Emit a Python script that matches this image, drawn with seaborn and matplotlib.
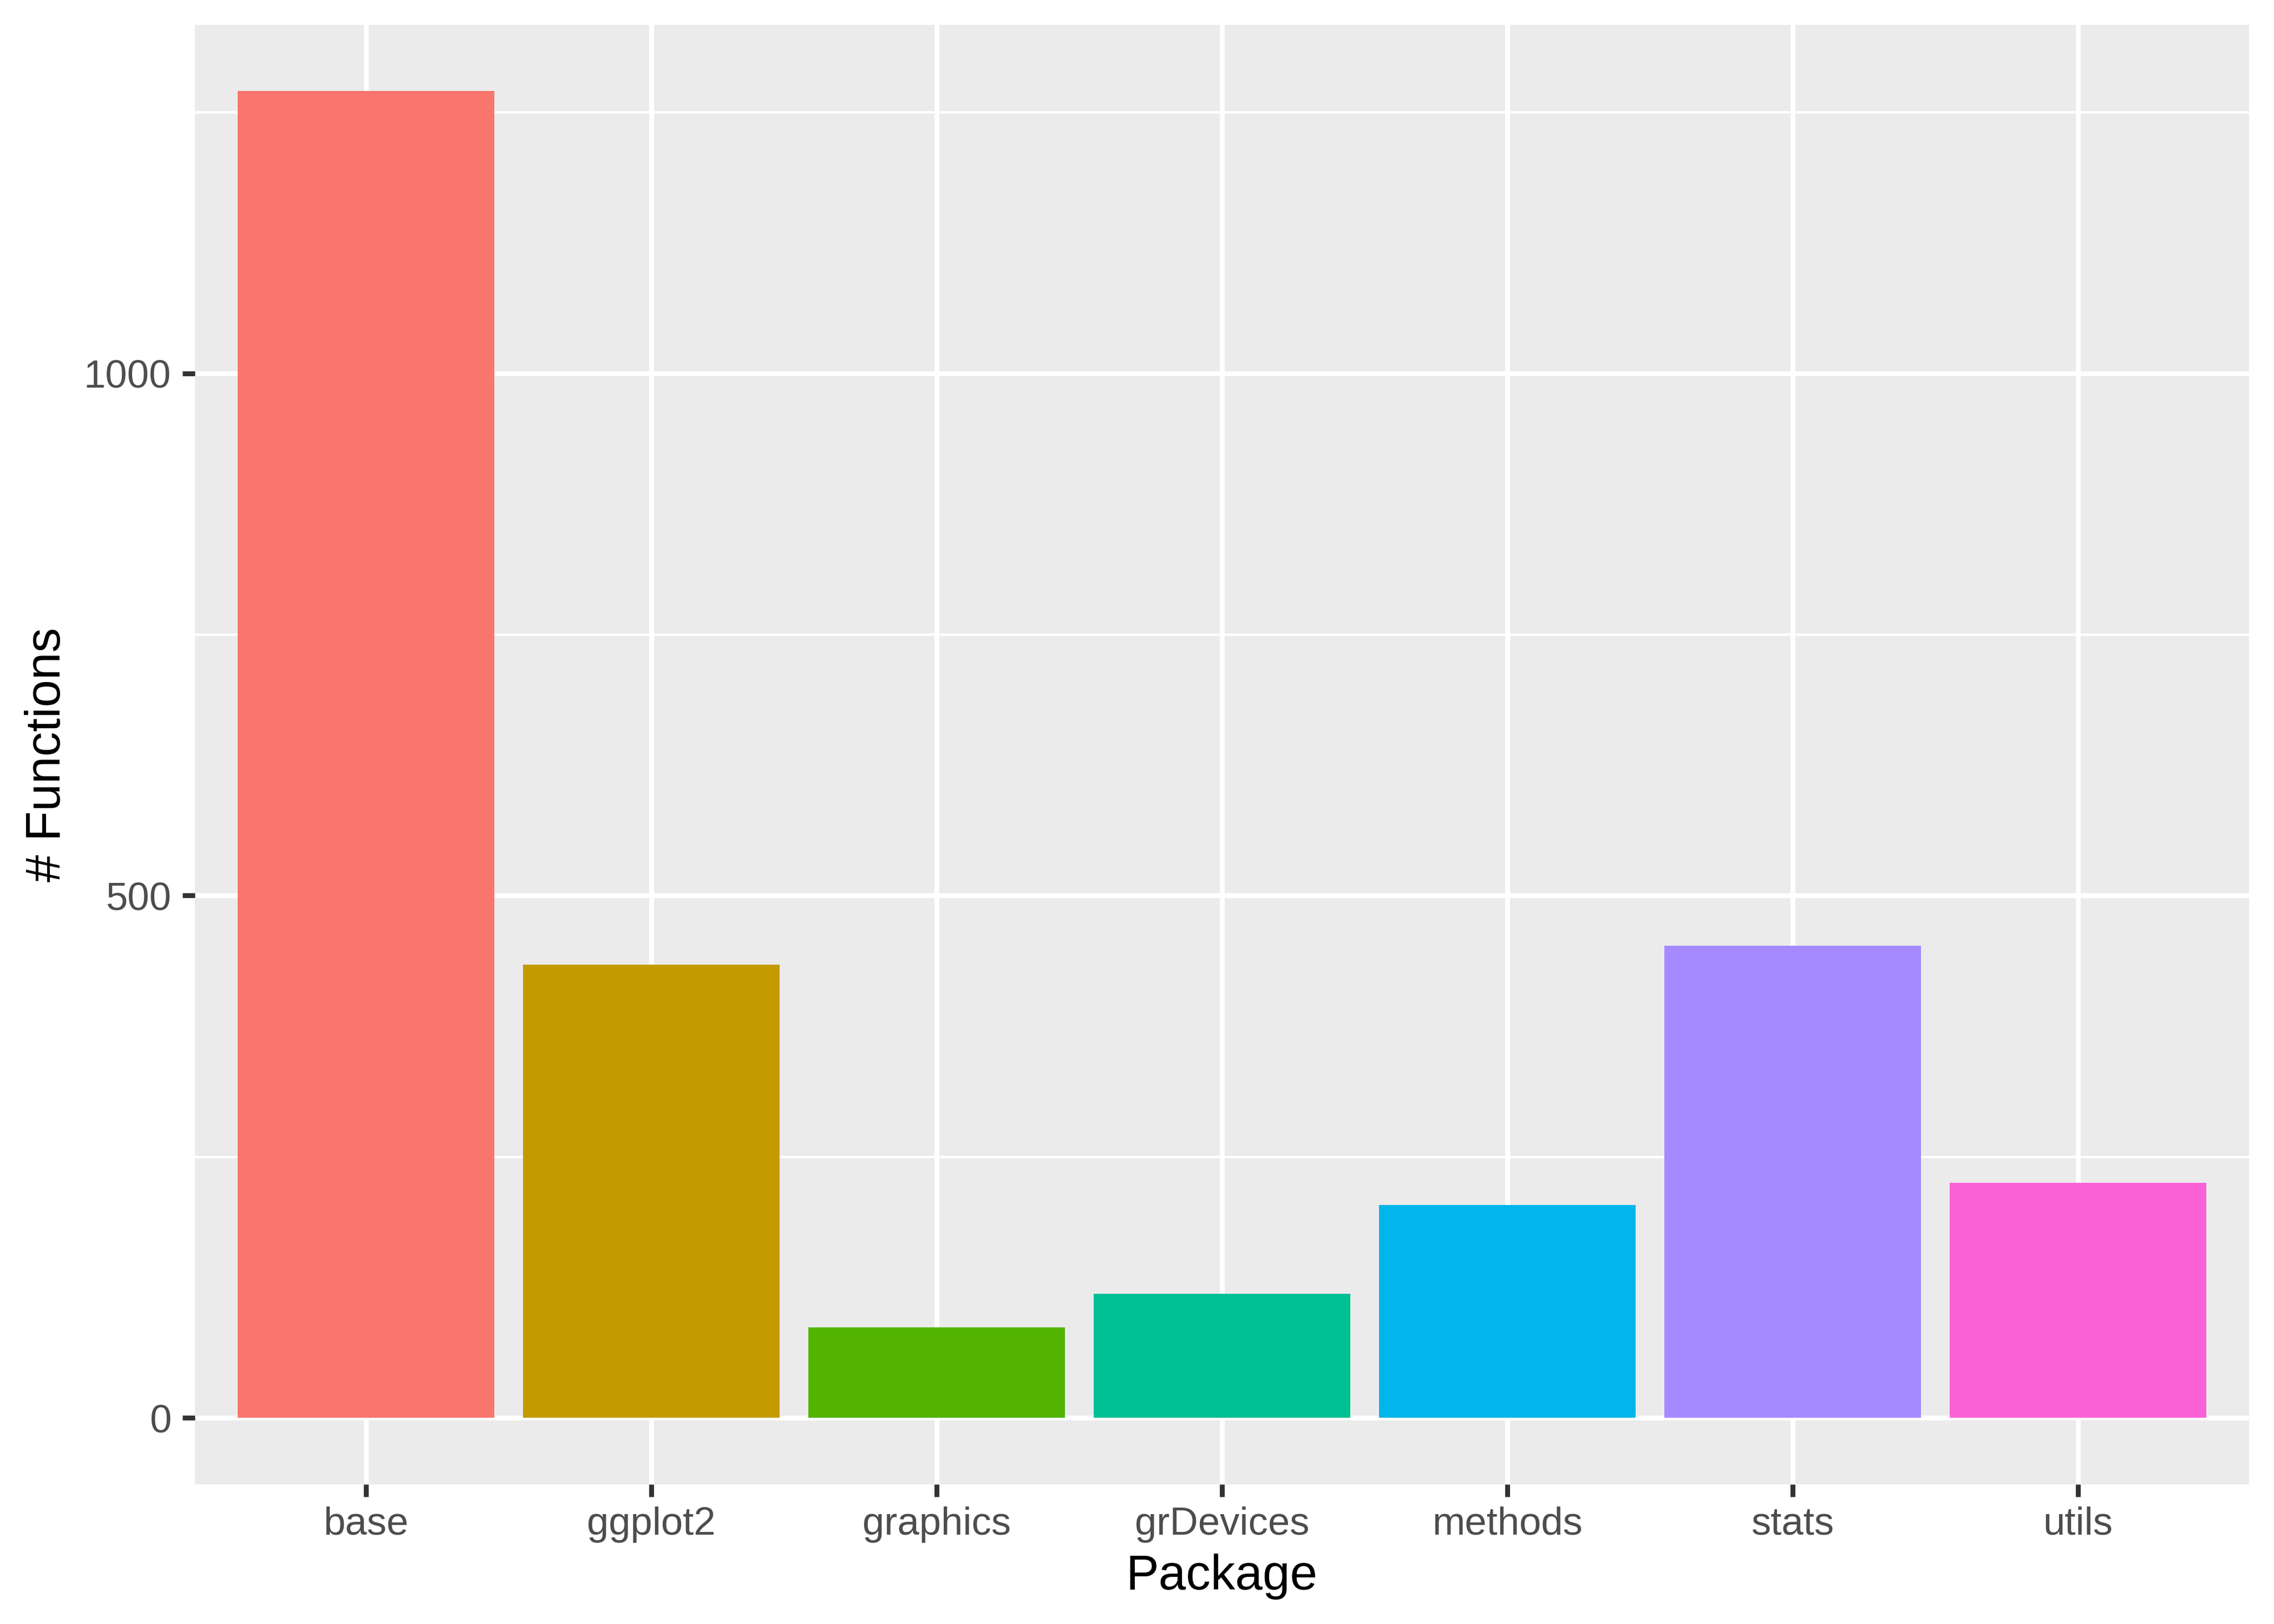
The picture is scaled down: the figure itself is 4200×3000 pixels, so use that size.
import matplotlib
matplotlib.use("Agg")
import matplotlib.pyplot as plt
import seaborn as sns
import pandas as pd
from matplotlib.ticker import FixedLocator

packages = ["base", "ggplot2", "graphics", "grDevices", "methods", "stats", "utils"]
counts = [1270, 434, 87, 119, 204, 452, 225]
colors = ["#F8766D", "#C49A00", "#53B400", "#00C094", "#00B6EB", "#A58AFF", "#FB61D7"]
y_major = [0, 500, 1000]
y_minor = [250, 750, 1250]

df = pd.DataFrame({"Package": packages, "Functions": counts})

sns.set_style("white")
plt.rcParams['font.family'] = ['Liberation Sans', 'DejaVu Sans']

fig = plt.figure(figsize=(14, 10), dpi=300)
ax = fig.add_axes([0.0857, 0.086, 0.9033, 0.8987])
ax.set_facecolor("#EBEBEB")

sns.barplot(data=df, x="Package", y="Functions", hue="Package", palette=colors,
            order=packages, hue_order=packages, width=0.9, legend=False,
            ax=ax, saturation=1, zorder=3)
for p in ax.patches:
    p.set_edgecolor("none")

ymax = max(counts)
pad = ymax * 0.05
ax.set_ylim(-pad, ymax + pad)
ax.set_xlim(-0.6, len(packages) - 0.4)

ax.yaxis.set_major_locator(FixedLocator(y_major))
ax.yaxis.set_minor_locator(FixedLocator(y_minor))
ax.grid(which="major", color="white", linewidth=2.15, zorder=0)
ax.grid(which="minor", axis="y", color="white", linewidth=1.1, zorder=0)
ax.set_axisbelow(True)

for s in ax.spines.values():
    s.set_visible(False)

ax.tick_params(axis="both", which="major", length=5.5, width=2.15, color="#333333",
               labelcolor="#4D4D4D", labelsize=17.4, bottom=True, left=True)
ax.tick_params(axis="x", which="major", pad=4.3)
ax.tick_params(axis="y", which="major", pad=5)
ax.tick_params(axis="y", which="minor", length=0, left=False)

ax.set_xlabel("Package", fontsize=21.8, color="black", labelpad=4.8)
ax.set_ylabel("# Functions", fontsize=21.8, color="black", labelpad=6)

fig.savefig("out.png", dpi=300)
